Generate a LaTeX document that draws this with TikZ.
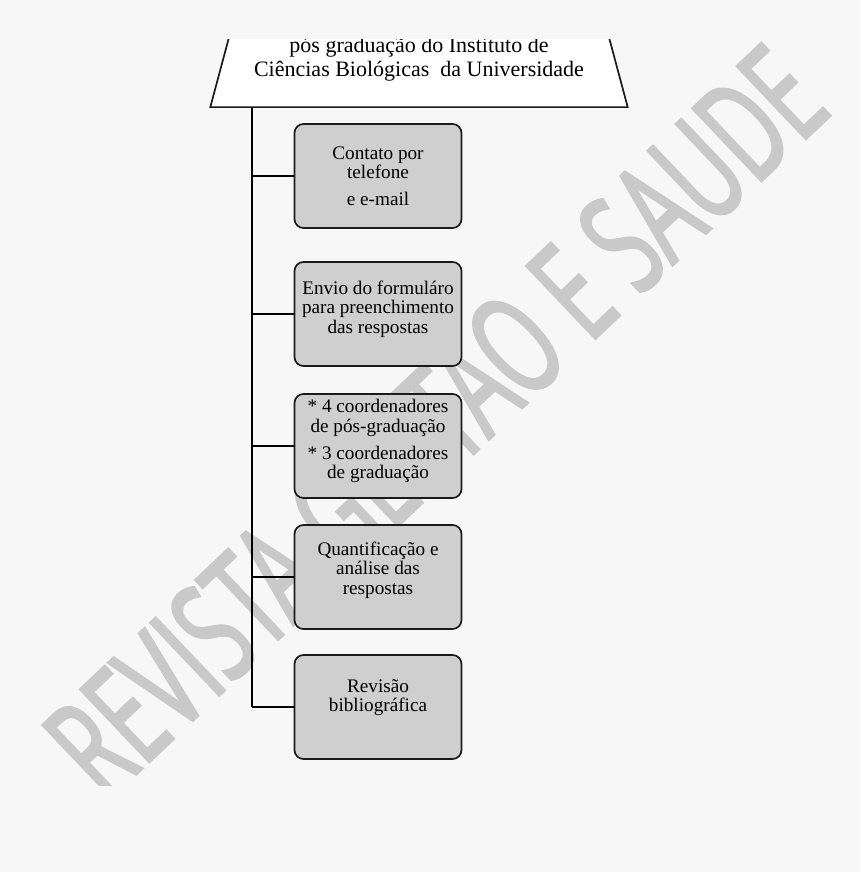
\documentclass[tikz,border=0pt]{standalone}
\usepackage{fontspec}
\usepackage{xcolor}
\usepackage{tikz}
\usetikzlibrary{shapes.geometric}
\setmainfont{Liberation Serif}
\newfontfamily\wmfont[FakeStretch=0.6,FakeBold=2]{Open Sans}
\definecolor{pagegray}{HTML}{F7F7F7}
\definecolor{boxgray}{HTML}{CFCFCF}
\definecolor{wmgray}{HTML}{C9C9C9}
\definecolor{edgeblack}{HTML}{1A1A1A}

\begin{document}
\begin{tikzpicture}[
    x=1pt, y=-1pt,
    title/.style={
        trapezium,
        trapezium left angle=75,
        trapezium right angle=75,
        draw=edgeblack,
        line width=1.7pt,
        fill=white,
        font=\fontsize{22}{24}\selectfont,
        align=center,
        inner xsep=18pt,
        inner ysep=26pt
    },
    cell/.style={
        draw=edgeblack,
        line width=1.7pt,
        fill=boxgray,
        rounded corners=9pt,
        minimum width=167pt,
        minimum height=104pt,
        font=\fontsize{19.2}{19.5}\selectfont,
        align=center,
        inner sep=2pt
    },
    branch/.style={
        line width=1.7pt
    }
]

\fill[pagegray] (0,0) rectangle (860,872);
\useasboundingbox (0,0) rectangle (860,872);

\begin{scope}
\clip (0,40) rectangle (860,785);

% ============================================================
% Watermark
% ============================================================

\node[font=\wmfont\fontsize{140}{140}\selectfont, text=wmgray,
      rotate=43.5, anchor=base east, inner sep=0pt] (watermark) at (834,112)
    {REVISTA GESTAO E SAUDE};

% ============================================================
% Title (cut at the top)
% ============================================================

\node[title, anchor=bottom side] (title) at (419,108)
    {pós graduação do Instituto de\\
     Ciências Biológicas~ da Universidade};

% ============================================================
% Steps
% ============================================================

\node[cell] (contato) at (378,176) {
    Contato por\\
    telefone\\[7.5pt]
    e e-mail
};

\node[cell, text depth=14pt] (envio) at (378,314) {
    Envio do formuláro\\
    para preenchimento\\
    das respostas
};

\node[cell, text depth=14pt] (coord) at (378,446) {
    * 4 coordenadores\\
    de pós-graduação\\[7.5pt]
    * 3 coordenadores\\
    de graduação
};

\node[cell, text depth=18pt] (quanti) at (378,577) {
    Quantificação e\\
    análise das\\
    respostas
};

\node[cell, text depth=23pt] (revisao) at (378,707) {
    Revisão\\
    bibliográfica
};

% ============================================================
% Connectors
% ============================================================

\coordinate (spine) at (252,108);

\draw[branch] (spine) -- (spine |- revisao.west);

\foreach \step in {contato, envio, coord, quanti, revisao}
    \draw[branch] (spine |- \step.west) -- (\step.west);

\end{scope}

\end{tikzpicture}
\end{document}
